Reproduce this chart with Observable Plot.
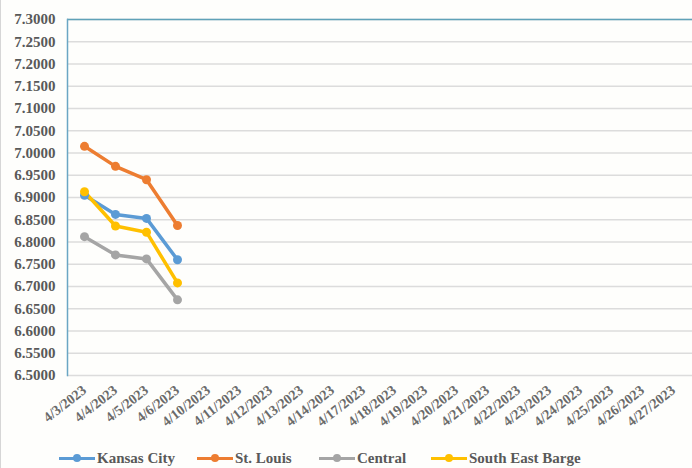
<!DOCTYPE html>
<html>
<head>
<meta charset="utf-8">
<script src="https://cdn.jsdelivr.net/npm/d3@7"></script>
<script src="https://cdn.jsdelivr.net/npm/@observablehq/plot@0.6"></script>
<style>
  html, body { margin: 0; padding: 0; background: #fefefc; }
  #wrap { position: relative; width: 692px; height: 468px; overflow: hidden; box-sizing: border-box; border-left: 1px solid #d6d6d6; }
  #chart { position: absolute; left: -1px; top: 0; }
  #legend { position: absolute; top: 448px; left: 0; width: 692px; height: 20px; font-family: "Liberation Serif", serif; font-weight: bold; font-size: 15px; color: #595959; }
  .item { position: absolute; top: 0; display: flex; align-items: center; height: 20px; }
  .sw { position: relative; width: 36px; height: 20px; margin-right: 2px; }
  .sw .ln { position: absolute; left: 0; right: 0; top: 8.5px; height: 3px; }
  .sw .dt { position: absolute; left: 14px; top: 6px; width: 8px; height: 8px; border-radius: 50%; }
</style>
</head>
<body>
<div id="wrap">
  <div id="chart"></div>
  <div id="legend"></div>
</div>
<script>
const dates = ["4/3/2023","4/4/2023","4/5/2023","4/6/2023","4/10/2023","4/11/2023","4/12/2023","4/13/2023","4/14/2023","4/17/2023","4/18/2023","4/19/2023","4/20/2023","4/21/2023","4/22/2023","4/23/2023","4/24/2023","4/25/2023","4/26/2023","4/27/2023"];
const seriesNames = ["Kansas City","St. Louis","Central","South East Barge"];
const seriesColors = ["#5B9BD5","#ED7D31","#A5A5A5","#FFC000"];
const kansasCity = [6.905, 6.862, 6.853, 6.760];
const stLouis = [7.015, 6.970, 6.940, 6.837];
const central = [6.812, 6.771, 6.762, 6.670];
const southEastBarge = [6.913, 6.836, 6.822, 6.708];
const yTicks = [6.5, 6.55, 6.6, 6.65, 6.7, 6.75, 6.8, 6.85, 6.9, 6.95, 7.0, 7.05, 7.1, 7.15, 7.2, 7.25, 7.3];

const valuesBySeries = [kansasCity, stLouis, central, southEastBarge];
const data = seriesNames.flatMap((s, i) => valuesBySeries[i].map((v, j) => ({series: s, date: dates[j], value: v})));

const chart = Plot.plot({
  width: 692,
  height: 440,
  marginLeft: 67,
  marginRight: 0,
  marginTop: 19,
  marginBottom: 65,
  style: {fontFamily: "Liberation Serif, serif", fontWeight: "bold", color: "#595959", background: "transparent", overflow: "visible"},
  x: {type: "point", domain: dates, range: [79, 677.5], padding: 0},
  y: {domain: [6.5, 7.3]},
  color: {domain: seriesNames, range: seriesColors},
  marks: [
    Plot.ruleY(yTicks, {stroke: "#dcdcdc", strokeWidth: 1.5}),
    Plot.ruleY([7.3], {stroke: "#5fa2b8", strokeWidth: 1.5}),
    Plot.frame({anchor: "left", stroke: "#6aa6c4", strokeWidth: 1.5}),
    Plot.axisY({ticks: yTicks, tickFormat: d => d.toFixed(4), tickSize: 0, tickPadding: 12, fontSize: 15, fill: "#595959", label: null}),
    Plot.axisX({tickSize: 0, tickRotate: -38, fontSize: 14, tickPadding: 13, dx: 0, fill: "#6a6a6a", label: null}),
    Plot.line(data, {x: "date", y: "value", z: "series", stroke: "series", strokeWidth: 3.5}),
    Plot.dot(data, {x: "date", y: "value", fill: "series", r: 4.5})
  ]
});
document.getElementById("chart").appendChild(chart);

const legendPos = [58, 196, 318, 430];
const legend = document.getElementById("legend");
seriesNames.forEach((s, i) => {
  const it = document.createElement("div");
  it.className = "item";
  it.style.left = legendPos[i] + "px";
  it.innerHTML = `<div class="sw"><div class="ln" style="background:${seriesColors[i]}"></div><div class="dt" style="background:${seriesColors[i]}"></div></div><span>${s}</span>`;
  legend.appendChild(it);
});
</script>
</body>
</html>
